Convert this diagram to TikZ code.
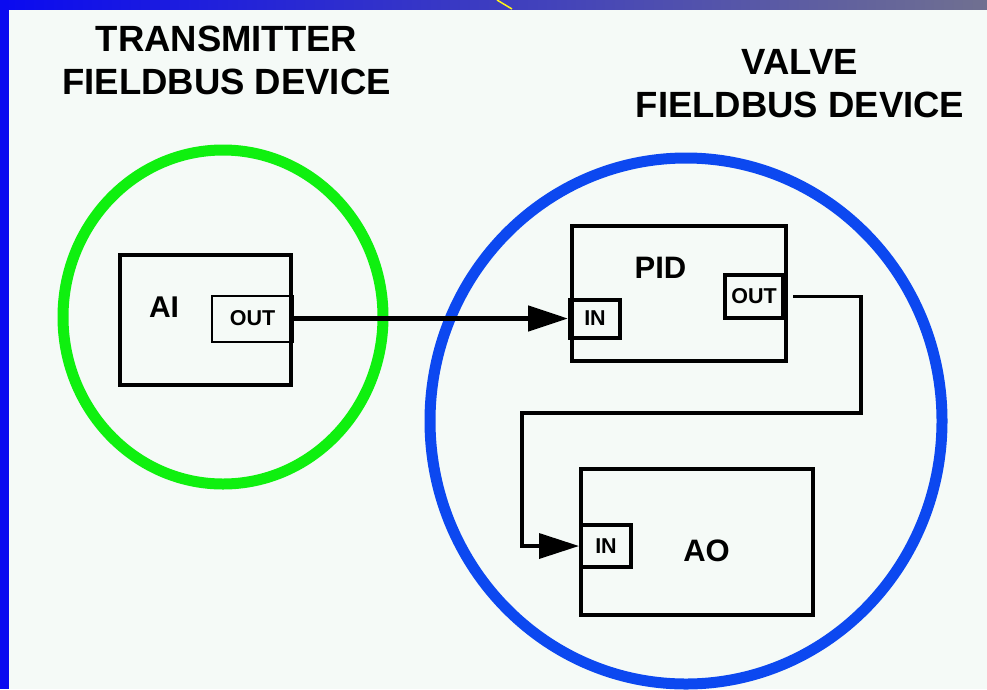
\documentclass[tikz,border=0pt]{standalone}
\usepackage{fontspec}
\setmainfont{Liberation Sans}
\usetikzlibrary{arrows.meta}
\definecolor{pagebg}{RGB}{245,250,247}
\definecolor{barblue}{RGB}{10,10,240}
\definecolor{bargrey}{RGB}{112,112,144}
\definecolor{txgreen}{RGB}{15,240,15}
\definecolor{vlvblue}{RGB}{12,72,240}
\tikzset{
  block/.style = {draw=black, line width=4.5pt, inner sep=0pt},
  port/.style = {draw=black, line width=4pt, inner sep=0pt,
                 font=\fontsize{21.5}{24}\selectfont\bfseries},
  title/.style = {align=center, inner sep=0pt,
                  font=\fontsize{36.5}{43}\selectfont\bfseries},
  flow/.style = {line width=5pt, -{Triangle[length=40pt,width=25pt]}}
}
\begin{document}
\begin{tikzpicture}[x=1pt, y=-1pt]
    % page and frame
    \fill[pagebg] (0,0) rectangle (987,689);
    \useasboundingbox (0,0) rectangle (987,689);
    \shade[left color=barblue, right color=bargrey] (0,0) rectangle (987,9);
    \fill[barblue] (0,0) rectangle (9,689);
    \draw[yellow!90!white, line width=1.5pt] (497,0) -- (512,9);

    % the two devices
    \draw[txgreen, line width=11pt] (223,317) ellipse [x radius=160, y radius=167];
    \draw[vlvblue, line width=11pt] (686,421) ellipse [x radius=256, y radius=263];
    \node[title] (txtitle) at (226.5,60.5) {TRANSMITTER\\FIELDBUS DEVICE};
    \node[title] (vlvtitle) at (800,83.5) {VALVE\\FIELDBUS DEVICE};

    % blocks
    \node[block, minimum width=171pt, minimum height=130pt] (ai) at (205.5,320) {};
    \node[font=\fontsize{30}{34}\selectfont\bfseries] at (164,307) {AI};
    \node[port, line width=2pt, minimum width=81pt, minimum height=46pt] (aiout) at (252.5,318.5) {OUT};

    \node[block, minimum width=214pt, minimum height=135pt] (pid) at (679,293.5) {};
    \node[font=\fontsize{31}{34}\selectfont\bfseries] at (660.5,268) {PID};
    \node[port, minimum width=50pt, minimum height=38pt] (pidin) at (595,318.5) {IN};
    \node[port, minimum width=58pt, minimum height=43pt] (pidout) at (754,296.5) {OUT};

    \node[block, minimum width=232pt, minimum height=146pt] (ao) at (697,542) {};
    \node[font=\fontsize{31}{34}\selectfont\bfseries] at (706.5,551) {AO};
    \node[port, minimum width=50pt, minimum height=42pt] (aoin) at (606,546) {IN};

    % signal path
    \coordinate (bend) at (861,413);
    \coordinate (drop) at (522,413);
    \draw[flow] (aiout.east) -- (pidin.west);
    \draw[flow, line width=3.5pt, shorten <=8pt] (pidout.east) -| (bend) -- (drop) |- (aoin.west);
\end{tikzpicture}
\end{document}
